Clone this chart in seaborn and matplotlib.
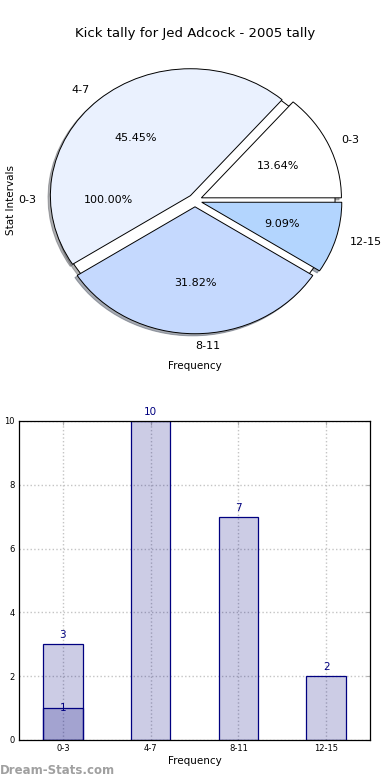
import matplotlib
matplotlib.use("Agg")
import matplotlib.pyplot as plt
import seaborn as sns
import pandas as pd

# Datos
intervalos = ["0-3", "4-7", "8-11", "12-15"]
frecuencias = [3, 10, 7, 2]
intervalos_extra = ["0-3"]
frecuencias_extra = [1]

colores_pie = ["#ffffff", "#eaf1fe", "#c5d9fe", "#b3d5fe"]
azul = "#000080"

sns.set_style("white")
plt.rcParams["font.family"] = ["DejaVu Sans"]
plt.rcParams["text.color"] = "black"
plt.rcParams["axes.labelcolor"] = "black"
plt.rcParams["xtick.color"] = "black"
plt.rcParams["ytick.color"] = "black"

fig = plt.figure(figsize=(3.9, 7.8), dpi=100)

sombra = dict(ox=-0.012, oy=-0.012, shade=0.6)

# Gráfico de torta
ax1 = fig.add_axes([0.105, 0.564, 0.79, 0.358])
ax1.pie(frecuencias_extra, labels=intervalos_extra, colors=["#ffffff"],
        autopct="%.2f%%", shadow=sombra, labeldistance=1.13, pctdistance=0.62,
        wedgeprops=dict(edgecolor="black", linewidth=0.7),
        textprops=dict(fontsize=8))
ax1.pie(frecuencias, labels=intervalos, colors=colores_pie,
        explode=[0.05] * len(frecuencias), autopct="%.2f%%", shadow=sombra,
        wedgeprops=dict(edgecolor="black", linewidth=0.7),
        textprops=dict(fontsize=8))
ax1.set_aspect("auto")
ax1.set_xlim(-1.1, 1.1)
ax1.set_ylim(-1.1, 1.1)
for s in ax1.spines.values():
    s.set_visible(False)
ax1.set_xticks([])
ax1.set_yticks([])
ax1.set_title("Kick tally for Jed Adcock - 2005 tally", fontsize=9.5, pad=17)
ax1.set_xlabel("Frequency", fontsize=7.5, labelpad=15)
ax1.set_ylabel("Stat Intervals", fontsize=7.5, labelpad=18)

# Gráfico de barras
ax2 = fig.add_axes([0.0487, 0.0513, 0.9, 0.409])
df = pd.DataFrame({"intervalo": intervalos, "frecuencia": frecuencias})
df_extra = pd.DataFrame({"intervalo": intervalos_extra, "frecuencia": frecuencias_extra})
sns.barplot(data=df, x="intervalo", y="frecuencia", order=intervalos,
            width=0.45, color=azul, edgecolor=azul, linewidth=0.9,
            saturation=1, ax=ax2)
sns.barplot(data=df_extra, x="intervalo", y="frecuencia", order=intervalos,
            width=0.45, color=azul, edgecolor=azul, linewidth=0.9,
            saturation=1, ax=ax2)
for p in ax2.patches:
    p.set_facecolor((0, 0, 0.5, 0.2))
    p.set_edgecolor(azul)

for i, v in enumerate(frecuencias):
    ax2.text(i, v + 0.12, str(v), ha="center", va="bottom", color=azul, fontsize=7.5)
for c, v in zip(intervalos_extra, frecuencias_extra):
    ax2.text(intervalos.index(c), v, str(v), ha="center", va="center", color=azul, fontsize=7.5)

ax2.set_xlim(-0.5, 3.5)
ax2.set_ylim(0, 10)
ax2.set_yticks([0, 2, 4, 6, 8, 10])
ax2.grid(True, linestyle=":", color="#c4c4c4", linewidth=1.0)
ax2.set_axisbelow(True)
ax2.tick_params(direction="in", top=True, right=True, labelsize=6,
                length=3, color="#b0b0b0", pad=3)
for s in ax2.spines.values():
    s.set_color("black")
    s.set_linewidth(0.9)
ax2.set_xlabel("Frequency", fontsize=7.5, labelpad=2)
ax2.set_ylabel("Stat Intervals", fontsize=7.5)
ax2.yaxis.set_label_coords(-0.055, 0.5)

fig.text(0.0, 0.012, "Dream-Stats.com", color="#a0a0a0", fontsize=8.5,
         fontweight="semibold", ha="left", va="center")

fig.savefig("out.png", dpi=100)
